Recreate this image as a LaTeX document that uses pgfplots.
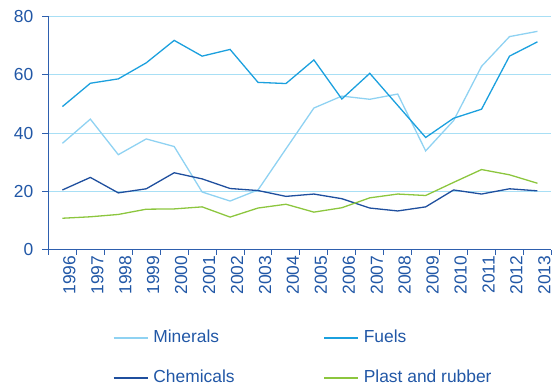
\documentclass[border=0pt]{standalone}
\usepackage{pgfplots}
\pgfplotsset{compat=1.18}
\usepackage{fontspec}
\setmainfont{Liberation Sans}

\definecolor{txtblue}{HTML}{2157A6}
\definecolor{axblue}{HTML}{2E5FAE}
\definecolor{gridblue}{HTML}{A8DFF5}
\definecolor{minerals}{HTML}{8FD2F2}
\definecolor{fuels}{HTML}{1BA0DE}
\definecolor{chemicals}{HTML}{1F4F9E}
\definecolor{plast}{HTML}{8CC63E}

\pgfplotsset{shortline/.style={legend image code/.code={\draw[##1] (0bp,0bp) -- (34bp,0bp);}}}

\begin{document}
\begin{tikzpicture}
\fontsize{17.5}{21}\selectfont
\begin{axis}[
  at={(0,0)}, anchor=south west,
  scale only axis,
  width=503.5bp, height=233.5bp,
  xmin=-0.5, xmax=17.5,
  ymin=0, ymax=80,
  axis x line=bottom, axis y line=left,
  axis line style={draw=axblue, line width=1.2bp, -},
  ytick={0,20,40,60,80},
  ymajorgrids,
  grid style={draw=gridblue, line width=0.9bp},
  xtick={0,...,17},
  xticklabels={1996,1997,1998,1999,2000,2001,2002,2003,2004,2005,2006,2007,2008,2009,2010,2011,2012,2013},
  minor xtick={-0.5,0.5,...,17.5},
  tick align=outside,
  xtick style={draw=none},
  minor x tick style={draw=axblue, line width=1bp},
  minor tick length=5bp,
  ytick style={draw=axblue, line width=1bp},
  major tick length=6bp,
  tick label style={font=\fontsize{17.5}{21}\selectfont, text=txtblue},
  /pgf/number format/assume math mode=true,
  xticklabel style={rotate=90, anchor=east, inner sep=0pt, yshift=-7bp},
  yticklabel style={anchor=east, inner sep=0pt, xshift=-9bp},
  legend columns=2,
  legend style={
    draw=none, fill=none,
    at={(64.5bp,-80bp)}, anchor=north west,
    inner sep=0pt,
    font=\fontsize{17.5}{21}\selectfont,
    text=txtblue,
    nodes={inner sep=0pt, text height=12.6bp, text depth=3.7bp},
    row sep=23.7bp,
    /tikz/every even column/.append style={column sep=89bp},
  },
  legend cell align=left,
  shortline,
  every axis plot/.append style={line width=1.3bp},
]
% Minerals
\addplot[color=minerals] coordinates {
 (0,36.5) (1,44.8) (2,32.6) (3,38.0) (4,35.4) (5,19.8) (6,16.7) (7,20.5) (8,34.6)
 (9,48.6) (10,52.7) (11,51.6) (12,53.4) (13,33.9) (14,44.3) (15,62.9) (16,73.1) (17,74.9)};
\addlegendentry{\hspace{5bp}Minerals}
% Fuels
\addplot[color=fuels] coordinates {
 (0,49.1) (1,57.1) (2,58.6) (3,64.1) (4,71.8) (5,66.4) (6,68.7) (7,57.4) (8,57.0)
 (9,65.1) (10,51.7) (11,60.5) (12,49.5) (13,38.5) (14,45.1) (15,48.2) (16,66.4) (17,71.3)};
\addlegendentry{\hspace{5bp}Fuels}
% Chemicals
\addplot[color=chemicals] coordinates {
 (0,20.5) (1,24.8) (2,19.5) (3,20.9) (4,26.4) (5,24.3) (6,21.0) (7,20.3) (8,18.3)
 (9,19.1) (10,17.5) (11,14.3) (12,13.3) (13,14.7) (14,20.5) (15,19.1) (16,20.9) (17,20.2)};
\addlegendentry{\hspace{5bp}Chemicals}
% Plastics and rubber
\addplot[color=plast] coordinates {
 (0,10.8) (1,11.3) (2,12.1) (3,13.9) (4,14.0) (5,14.7) (6,11.2) (7,14.3) (8,15.6)
 (9,12.9) (10,14.4) (11,17.8) (12,19.1) (13,18.6) (14,23.1) (15,27.5) (16,25.7) (17,22.8)};
\addlegendentry{\hspace{5bp}Plast and rubber}
\end{axis}
\path[use as bounding box] (-48.5bp,-140bp) rectangle (503.5bp,250bp);
\end{tikzpicture}
\end{document}
